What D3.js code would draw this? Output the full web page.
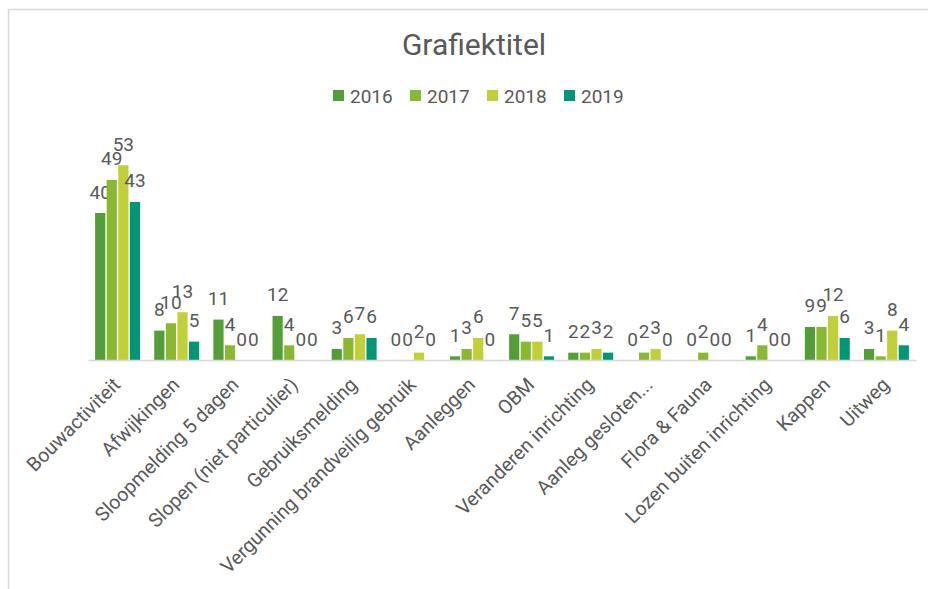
<!DOCTYPE html>
<html>
<head>
<meta charset="utf-8">
<script src="https://cdn.jsdelivr.net/npm/d3@7"></script>
<style>
  body { margin: 0; background: #fff; }
  svg { display: block; font-family: Roboto, sans-serif; }
</style>
</head>
<body>
<svg id="chart"></svg>
<script>
const categories = [
  'Bouwactiviteit', 'Afwijkingen', 'Sloopmelding 5 dagen', 'Slopen (niet particulier)',
  'Gebruiksmelding', 'Vergunning brandveilig gebruik', 'Aanleggen', 'OBM',
  'Veranderen inrichting', 'Aanleg gesloten...', 'Flora & Fauna',
  'Lozen buiten inrichting', 'Kappen', 'Uitweg'
];
const years = ['2016', '2017', '2018', '2019'];
const values2016 = [40, 8, 11, 12, 3, 0, 1, 7, 2, 0, 0, 1, 9, 3];
const values2017 = [49, 10, 4, 4, 6, 0, 3, 5, 2, 2, 2, 4, 9, 1];
const values2018 = [53, 13, 0, 0, 7, 2, 6, 5, 3, 3, 0, 0, 12, 8];
const values2019 = [43, 5, 0, 0, 6, 0, 0, 1, 2, 0, 0, 0, 6, 4];
const colors = ['#549e39', '#8ab833', '#c0cf3a', '#029676'];

const series = [values2016, values2017, values2018, values2019];
const width = 928, height = 589;
const textColor = '#595959';

const svg = d3.select('#chart').attr('width', width).attr('height', height);

// chart border (only top and left edge visible in the crop)
svg.append('rect')
  .attr('x', 8.5).attr('y', 9.5)
  .attr('width', 1000).attr('height', 1000)
  .attr('fill', 'none')
  .attr('stroke', '#d9d9d9')
  .attr('stroke-width', 1.5);

const x0 = d3.scaleBand().domain(categories).range([88, 916]).paddingInner(0.24).paddingOuter(0.12);
const x1 = d3.scaleBand().domain(years).range([0, x0.bandwidth()]).paddingInner(0.12);
const y = d3.scaleLinear().domain([0, 60]).range([360, 139.5]);

// title
svg.append('text')
  .attr('x', 474).attr('y', 55)
  .attr('text-anchor', 'middle')
  .attr('fill', textColor)
  .style('font-size', '30px')
  .text('Grafiektitel');

// legend
const legend = svg.append('g').selectAll('g')
  .data(years)
  .join('g')
  .attr('transform', (d, i) => `translate(${333 + i * 77},90)`);
legend.append('rect')
  .attr('width', 11).attr('height', 11)
  .attr('fill', (d, i) => colors[i]);
legend.append('text')
  .attr('x', 17).attr('y', 12.5)
  .attr('fill', textColor)
  .style('font-size', '19px')
  .text(d => d);

// bars
const groups = svg.append('g').selectAll('g')
  .data(categories)
  .join('g')
  .attr('transform', d => `translate(${x0(d)},0)`);

const cells = groups.selectAll('g')
  .data((c, ci) => years.map((yr, si) => ({ yr, si, v: series[si][ci] })))
  .join('g');

cells.append('rect')
  .attr('x', d => x1(d.yr))
  .attr('y', d => y(d.v))
  .attr('width', x1.bandwidth())
  .attr('height', d => y(0) - y(d.v))
  .attr('fill', d => colors[d.si]);

cells.append('text')
  .attr('x', d => x1(d.yr) + x1.bandwidth() / 2)
  .attr('y', d => y(d.v) - 14.5)
  .attr('text-anchor', 'middle')
  .attr('fill', textColor)
  .style('font-size', '19px')
  .text(d => d.v);

// x axis
const xAxis = svg.append('g')
  .attr('transform', `translate(0,${y(0)})`)
  .call(d3.axisBottom(x0).tickSize(0).tickSizeOuter(0));
xAxis.select('.domain').attr('stroke', '#d9d9d9').attr('stroke-width', 1.5);
xAxis.selectAll('text')
  .attr('fill', textColor)
  .style('font-size', '19.5px')
  .style('font-family', 'Roboto, sans-serif')
  .attr('text-anchor', 'end')
  .attr('y', 0)
  .attr('dy', 0)
  .attr('transform', 'translate(4,26) rotate(-45)');
</script>
</body>
</html>
